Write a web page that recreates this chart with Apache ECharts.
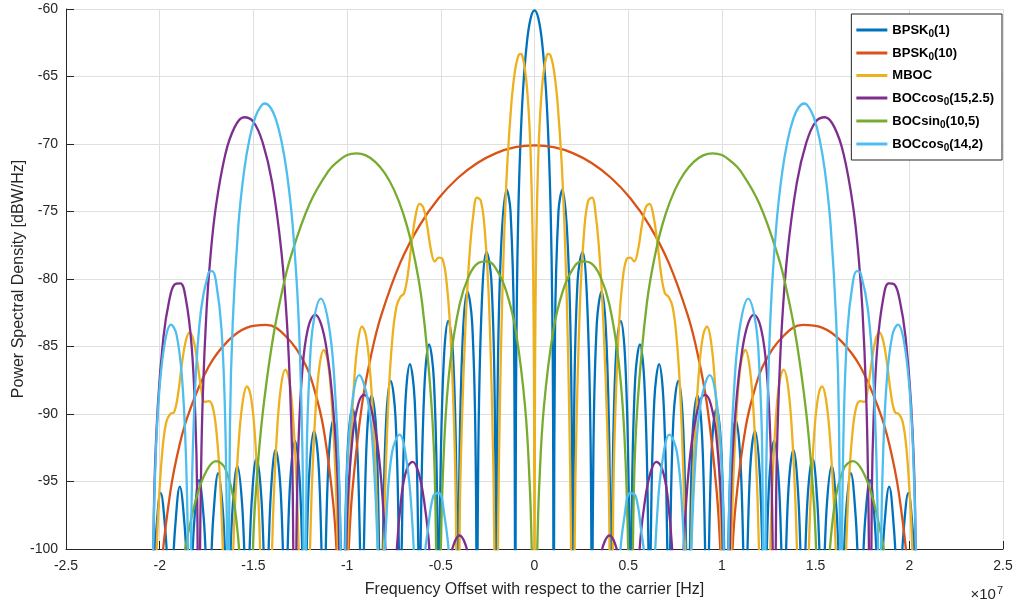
<!DOCTYPE html>
<html><head><meta charset="utf-8">
<script src="https://cdn.jsdelivr.net/npm/echarts@6/dist/echarts.min.js"></script>
<style>html,body{margin:0;padding:0;background:#fff}#c{width:1016px;height:603px}</style>
</head><body><div id="c"></div>
<script>
// Frequencies in MHz (axis shows units of 1e7 Hz), PSD in dBW/Hz.
// Each spectrum is symmetric about 0; positive-frequency halves.
// Values below -100 mark nulls (clipped by the axis).
const xTicks = [-2.5,-2,-1.5,-1,-0.5,0,0.5,1,1.5,2,2.5];
const yTicks = [-100,-95,-90,-85,-80,-75,-70,-65,-60];

const seriesNames = ['BPSK0(1)','BPSK0(10)','MBOC','BOCcos0(15,2.5)','BOCsin0(10,5)','BOCcos0(14,2)'];
const legendLabels = ['BPSK{s|0}(1)','BPSK{s|0}(10)','MBOC','BOCcos{s|0}(15,2.5)','BOCsin{s|0}(10,5)','BOCcos{s|0}(14,2)'];
const colors = ['#0072BD','#D95319','#EDB120','#7E2F8E','#77AC30','#4DBEEE'];

const bpsk1Half = [
[0,-60.1],[0.205,-60.68],[0.409,-62.52],[0.614,-66.04],[0.767,-70.55],[0.870,-75.49],[0.941,-81.41],[0.992,-90.3],[1.023,-110],
[1.095,-83.86],[1.279,-74.99],[1.483,-73.38],[1.790,-77.91],[1.974,-88.98],[2.046,-110],
[2.118,-89.59],[2.302,-80.09],[2.558,-78.0],[2.813,-81.84],[2.997,-92.61],[3.069,-110],
[3.141,-93.01],[3.325,-83.29],[3.581,-80.92],[3.836,-84.53],[4.020,-95.16],[4.092,-110],
[4.164,-95.46],[4.348,-85.62],[4.604,-83.10],[4.859,-86.58],[5.043,-97.13],[5.115,-110],
[5.187,-97.37],[5.371,-87.45],[5.627,-84.85],[5.882,-88.24],[6.066,-98.73],[6.138,-110],
[6.210,-98.93],[6.394,-88.97],[6.650,-86.30],[6.905,-89.64],[7.089,-100.09],[7.161,-108],
[7.233,-100.26],[7.417,-90.26],[7.673,-87.54],[7.928,-90.84],[8.112,-101.26],[8.184,-106],
[8.440,-91.38],[8.696,-88.63],[8.951,-91.89],[9.207,-104],
[9.463,-92.37],[9.719,-89.59],[9.974,-92.83],[10.230,-104],
[10.486,-93.26],[10.742,-90.46],[10.997,-93.68],[11.253,-104],
[11.509,-94.07],[11.765,-91.25],[12.020,-94.45],[12.276,-104],
[12.532,-94.81],[12.788,-91.98],[13.043,-95.16],[13.299,-104],
[13.555,-95.49],[13.811,-92.65],[14.066,-95.82],[14.322,-104],
[14.578,-96.13],[14.834,-93.27],[15.089,-96.43],[15.345,-104],
[15.601,-96.72],[15.857,-93.85],[16.112,-97.0],[16.368,-104],
[16.624,-97.27],[16.880,-94.39],[17.135,-97.53],[17.391,-104],
[17.647,-97.79],[17.903,-94.90],[18.158,-98.03],[18.414,-104],
[18.670,-98.28],[18.926,-95.38],[19.181,-98.51],[19.437,-104],
[19.693,-98.74],[19.949,-95.84],[20.204,-98.96],[20.460,-104]
];

const bpsk10Half = [
[0,-70.1],[1.023,-70.24],[2.046,-70.68],[3.069,-71.43],[4.092,-72.52],[5.115,-74.02],[6.138,-76.04],[7.161,-78.79],[8.184,-82.72],[8.696,-85.5],[9.207,-89.33],[9.719,-95.7],[9.923,-100.3],[10.23,-110],
[10.537,-100.8],[10.742,-96.6],[11.253,-91.1],[11.765,-88.1],[12.276,-86.2],[13.299,-84.2],[14.322,-83.4],[15.345,-83.6],[16.368,-84.6],[17.391,-86.5],[18.414,-89.8],[18.926,-92.2],[19.437,-95.8],[19.949,-102],[20.46,-115]
];

const mbocHalf = [
[0,-125],[0.0205,-90.57],[0.0512,-82.63],[0.1023,-76.65],[0.2046,-70.84],[0.3069,-67.68],[0.4092,-65.70],[0.5115,-64.43],[0.6138,-63.67],[0.7161,-63.33],[0.8184,-63.36],[0.9207,-63.74],[1.023,-64.43],[1.1253,-65.48],[1.2276,-66.88],[1.4322,-71.0],[1.5345,-73.9],[1.6368,-77.58],[1.7391,-82.4],[1.8414,-88.99],[1.9437,-98.86],[2.046,-120],
[2.148,-99.12],[2.2506,-90.22],[2.4552,-80.85],[2.6598,-76.27],[2.8644,-74.21],[3.069,-73.97],[3.2736,-75.35],[3.4782,-78.41],[3.6828,-83.46],[3.8874,-91.32],[3.9897,-97.83],[4.092,-120],
[4.1943,-97.3],[4.2966,-90.63],[4.5012,-83.62],[4.7058,-80.04],[4.9104,-78.52],[5.115,-78.41],[5.3196,-78.71],[5.5242,-77.85],[5.7288,-76.04],[5.9334,-74.71],[6.138,-74.43],[6.3426,-75.29],[6.5472,-77.2],[6.7518,-79.59],[6.9564,-81.04],[7.161,-81.33],[7.3656,-82.04],[7.5702,-84.17],[7.7748,-88.37],[7.9794,-96.0],[8.0817,-103],[8.184,-115],
[8.3886,-98.0],[8.5932,-90.82],[8.7978,-86.47],[9.0024,-84.14],[9.207,-83.52],[9.4116,-84.55],[9.6162,-87.43],[9.8208,-92.9],[9.9231,-97.16],[10.23,-112],
[10.5369,-98.05],[10.6392,-93.84],[10.8438,-88.59],[11.0484,-85.97],[11.253,-85.26],[11.4576,-86.29],[11.6622,-89.25],[11.8668,-94.95],[11.9691,-99.5],[12.276,-112],
[12.5829,-99.94],[12.6852,-95.52],[12.8898,-90.12],[13.0944,-87.44],[13.299,-86.71],[13.5036,-87.71],[13.7082,-90.62],[13.9128,-96.17],[14.0151,-100.5],[14.322,-112],
[14.6289,-100.5],[14.7312,-96.42],[14.9358,-91.26],[15.1404,-88.68],[15.345,-87.95],[15.5496,-88.89],[15.7542,-91.53],[15.9588,-96.19],[16.0611,-99.48],[16.368,-112],
[16.5726,-102.35],[16.7772,-95.05],[16.9818,-91.18],[17.1864,-89.4],[17.391,-89.04],[17.5956,-89.1],[17.8002,-88.0],[18.0048,-85.99],[18.2094,-84.45],[18.414,-83.98],[18.6186,-84.64],[18.8232,-86.38],[19.0278,-88.59],[19.2324,-89.87],[19.437,-90.0],[19.6416,-90.56],[19.8462,-92.54],[20.0508,-96.6],[20.1531,-99.74],[20.2554,-104.1],[20.46,-115]
];

const boccos15Half = [
[0,-130],[2.5575,-130],[3.5,-100.9],[4.0,-99.0],[4.5,-100.9],[5.115,-120],
[5.6,-100.3],[5.9,-96.35],[6.2,-94.29],[6.5,-93.54],[6.8,-94.01],[7.1,-96.09],[7.4,-101.4],[7.6725,-115],
[7.9,-102.0],[8.1,-96.4],[8.4,-92.0],[8.8,-89.19],[9.1,-88.59],[9.4,-89.24],[9.7,-91.58],[10.0,-97.67],[10.23,-115],
[10.5,-95.2],[10.8,-88.56],[11.1,-85.14],[11.4,-83.29],[11.7,-82.65],[12.1,-83.74],[12.4,-87.0],[12.6,-92.4],[12.7,-98.8],[12.7875,-115],
[12.9,-95.7],[13.0,-89.8],[13.2,-83.46],[13.5,-78.04],[14.0,-72.86],[14.5,-69.92],[15.0,-68.36],[15.5,-68.02],[16.0,-68.75],[16.5,-70.77],[17.0,-74.62],[17.3,-78.45],[17.5,-82.28],[17.7,-88.66],[17.8,-94.9],[17.85,-100.8],[17.9025,-115],
[18.0,-96.0],[18.1,-90.16],[18.3,-84.89],[18.6,-81.52],[18.9,-80.32],[19.2,-80.4],[19.5,-81.65],[19.8,-84.31],[20.1,-89.38],[20.3,-96.46],[20.46,-115]
];

const bocsin10Half = [
[0,-120],[0.1,-103.4],[0.15,-99.9],[0.25,-95.4],[0.5,-89.5],[1.0,-83.84],[1.5,-80.94],[2.0,-79.36],[2.5,-78.69],[3.0,-78.81],[3.5,-79.77],[4.0,-81.91],[4.5,-86.24],[4.8,-91.63],[5.0,-100.2],[5.115,-115],
[5.3,-95.77],[5.5,-89.23],[6.0,-81.74],[6.5,-77.77],[7.0,-75.18],[7.5,-73.38],[8.0,-72.14],[8.5,-71.32],[9.0,-70.84],[9.5,-70.69],[10.0,-70.82],[10.5,-71.3],[11.0,-72.01],[12.0,-74.43],[13.0,-78.33],[13.5,-81.11],[14.0,-84.76],[14.5,-89.9],[14.8,-94.46],[15.0,-99.03],[15.345,-115],
[15.6,-103.5],[16.0,-96.83],[16.5,-94.06],[17.0,-93.49],[17.5,-94.2],[18.0,-96.0],[18.5,-98.96],[18.8,-101.4],[19.5,-110],[20.46,-125]
];

const boccos14Half = [
[0,-130],[4.092,-130],[4.55,-100.9],[4.8,-97.6],[5.1,-95.85],[5.4,-96.08],[5.7,-98.71],[5.85,-100.5],[6.138,-115],
[6.35,-103.2],[6.55,-97.39],[6.8,-93.73],[7.2,-91.53],[7.6,-92.83],[7.9,-97.55],[8.05,-103.3],[8.184,-115],
[8.35,-101.1],[8.6,-93.08],[8.9,-88.93],[9.35,-87.12],[9.8,-90.07],[10.05,-96.48],[10.23,-115],
[10.4,-96.05],[10.7,-87.03],[11.0,-83.2],[11.4,-81.45],[11.8,-83.27],[12.0,-86.68],[12.15,-92.71],[12.276,-115],
[12.33,-99.2],[12.4,-91.62],[12.6,-82.55],[12.9,-76.11],[13.2,-72.27],[13.5,-69.79],[13.8,-68.18],[14.1,-67.28],[14.4,-67.0],[14.6,-67.2],[14.9,-68.01],[15.2,-69.55],[15.5,-72.03],[15.8,-75.99],[16.1,-83.12],[16.25,-90.77],[16.368,-115],
[16.4,-101.2],[16.5,-90.74],[16.7,-83.76],[17.0,-80.13],[17.2,-79.41],[17.4,-79.56],[17.8,-82.35],[18.1,-87.83],[18.3,-96.75],[18.414,-115],
[18.5,-99.5],[18.6,-93.11],[18.8,-87.49],[19.1,-84.14],[19.4,-83.38],[19.7,-84.51],[20.0,-87.93],[20.2,-92.63],[20.35,-100.1],[20.46,-115]
];

const halves = [bpsk1Half, bpsk10Half, mbocHalf, boccos15Half, bocsin10Half, boccos14Half];

function mirror(half) {
  const neg = half.filter(p => p[0] > 0).map(p => [-p[0], p[1]]).reverse();
  return neg.concat(half);
}

const FONT = 'Liberation Sans, Arial, Helvetica, sans-serif';
const AX = '#262626';

const chart = echarts.init(document.getElementById('c'), null, {renderer: 'canvas'});
const legendMap = {};
seriesNames.forEach((n, i) => legendMap[n] = legendLabels[i]);

chart.setOption({
  animation: false,
  backgroundColor: '#ffffff',
  grid: {left: 66, right: 13, top: 9, bottom: 54, containLabel: false, outerBoundsMode: 'none'},
  xAxis: {
    type: 'value', min: -25, max: 25, interval: 5,
    name: 'Frequency Offset with respect to the carrier [Hz]',
    nameLocation: 'middle', nameGap: 33, nameMoveOverlap: false,
    nameTextStyle: {fontFamily: FONT, fontSize: 16, color: AX},
    axisLine: {show: true, onZero: false, lineStyle: {color: AX, width: 1}},
    axisTick: {show: true, inside: true, length: 8, lineStyle: {color: AX}},
    axisLabel: {fontFamily: FONT, fontSize: 14, color: AX, margin: 10,
      formatter: v => { const t = xTicks.find(x => Math.abs(x * 10 - v) < 1e-6); return t === undefined ? '' : String(t); }},
    splitLine: {show: true, lineStyle: {color: '#dfdfdf', width: 1}}
  },
  yAxis: {
    type: 'value', min: -100, max: -60, interval: 5,
    name: 'Power Spectral Density [dBW/Hz]',
    nameLocation: 'middle', nameGap: 39, nameMoveOverlap: false,
    nameTextStyle: {fontFamily: FONT, fontSize: 16, color: AX},
    axisLine: {show: true, onZero: false, lineStyle: {color: AX, width: 1}},
    axisTick: {show: true, inside: true, length: 8, lineStyle: {color: AX}},
    axisLabel: {fontFamily: FONT, fontSize: 14, color: AX, margin: 8,
      formatter: v => { const t = yTicks.find(y => Math.abs(y - v) < 1e-6); return t === undefined ? '' : String(t); }},
    splitLine: {show: true, lineStyle: {color: '#dfdfdf', width: 1}}
  },
  legend: {
    orient: 'vertical', right: 14, top: 14,
    backgroundColor: '#ffffff', borderColor: AX, borderWidth: 1, borderRadius: 0,
    padding: [7, 8, 7, 5],
    itemWidth: 31, itemHeight: 3, itemGap: 5, icon: 'rect',
    data: seriesNames,
    formatter: n => legendMap[n],
    textStyle: {fontFamily: FONT, fontSize: 13, fontWeight: 'bold', color: '#000', lineHeight: 17,
      rich: {s: {fontFamily: FONT, fontSize: 10, fontWeight: 'bold', color: '#000', lineHeight: 10, padding: [8, 0, 0, 0]}}}
  },
  graphic: [{
    type: 'text', right: 13, top: 585, silent: true,
    style: {text: '×10{sup|7}', font: '15px ' + FONT, fill: AX,
      rich: {sup: {fontSize: 11, fontFamily: FONT, fill: AX, padding: [0, 0, 9, 1]}}}
  }],
  series: halves.map((h, i) => ({
    type: 'line', name: seriesNames[i], data: mirror(h),
    showSymbol: false, symbol: 'none', smooth: 0.4,
    clip: true, silent: true, z: 2 + i * 0.01,
    lineStyle: {width: 2.3, color: colors[i]}, itemStyle: {color: colors[i]}
  }))
});
</script></body></html>
